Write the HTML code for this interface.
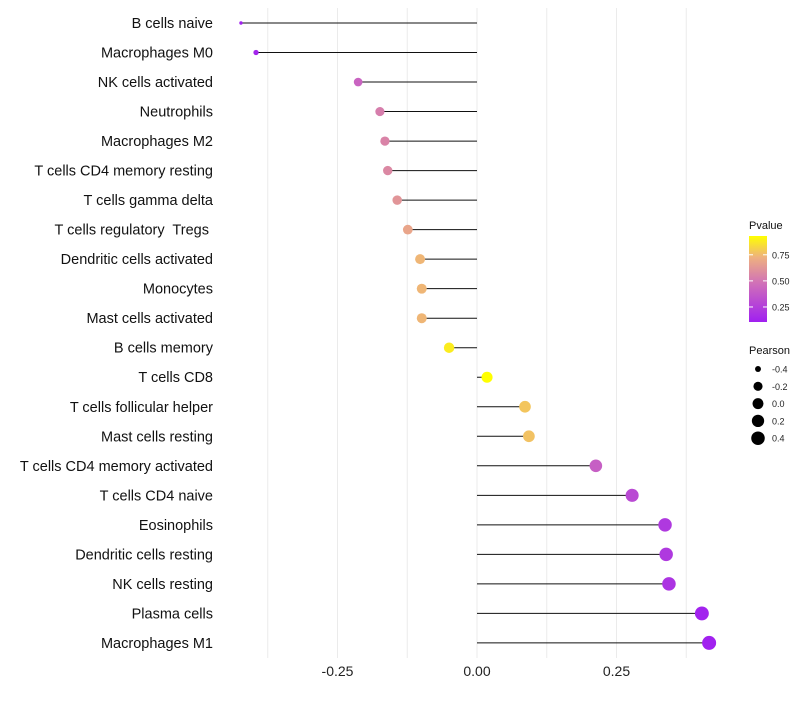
<!DOCTYPE html>
<html><head><meta charset="utf-8"><style>
body{margin:0;background:#fff;font-family:"Liberation Sans",sans-serif;}
text{white-space:pre;}
</style></head><body>
<svg id="chart" width="800" height="700" xmlns="http://www.w3.org/2000/svg" font-family="Liberation Sans, sans-serif">
<defs><linearGradient id="pg" x1="0" y1="1" x2="0" y2="0">
<stop offset="0" stop-color="#a020f0"/><stop offset="0.45" stop-color="#d070b8"/><stop offset="0.75" stop-color="#eeb080"/><stop offset="1" stop-color="#ffff00"/></linearGradient></defs>
<g id="grid"></g><g id="marks"></g><g id="labels"></g><g id="legend"></g>
</svg>
<script>
const categories=["B cells naive","Macrophages M0","NK cells activated","Neutrophils","Macrophages M2","T cells CD4 memory resting","T cells gamma delta","T cells regulatory  Tregs ","Dendritic cells activated","Monocytes","Mast cells activated","B cells memory","T cells CD8","T cells follicular helper","Mast cells resting","T cells CD4 memory activated","T cells CD4 naive","Eosinophils","Dendritic cells resting","NK cells resting","Plasma cells","Macrophages M1"];
const pearson=[-0.423,-0.396,-0.213,-0.174,-0.165,-0.160,-0.143,-0.124,-0.102,-0.099,-0.099,-0.050,0.018,0.086,0.093,0.213,0.278,0.337,0.339,0.344,0.403,0.416];
const pvalue=[0.11,0.13,0.42,0.53,0.55,0.57,0.62,0.68,0.74,0.74,0.74,0.88,0.93,0.78,0.77,0.4,0.3,0.22,0.22,0.2,0.12,0.11];
const xTicks=[-0.25,0,0.25];
const xTickLabels=["-0.25","0.00","0.25"];
const gridVals=[-0.375,-0.25,-0.125,0,0.125,0.25,0.375];
const pTicks=[0.25,0.5,0.75];
const sizeTicks=[-0.4,-0.2,0,0.2,0.4];
const sizeTickLabels=["-0.4","-0.2","0.0","0.2","0.4"];
const NS="http://www.w3.org/2000/svg";
const x=v=>477+v*558;
const y=i=>23+i*29.52;
const r=v=>1.7+5.3*Math.sqrt(Math.max(0,(v+0.423)/0.84));
const rl=v=>2.2+4.6*Math.sqrt(Math.max(0,(v+0.423)/0.84));
function lerp(a,b,t){return a+(b-a)*t}
const stops=[[0,[160,32,240]],[0.45,[208,112,184]],[0.75,[238,176,128]],[1,[255,255,0]]];
function col(p){let t=(p-0.106)/(0.93-0.106);t=Math.max(0,Math.min(1,t));
for(let k=0;k<stops.length-1;k++){const [a,ca]=stops[k],[b,cb]=stops[k+1];if(t<=b){const u=(t-a)/(b-a);return `rgb(${ca.map((c,j)=>Math.round(lerp(c,cb[j],u))).join(',')})`;}}return 'rgb(255,255,0)';}
function mk(tag,attrs,parent,txt){const e=document.createElementNS(NS,tag);for(const k in attrs)e.setAttribute(k,attrs[k]);if(txt!==undefined)e.textContent=txt;parent.appendChild(e);return e;}
const grid=document.getElementById('grid'),marks=document.getElementById('marks'),labels=document.getElementById('labels'),legend=document.getElementById('legend');
gridVals.forEach(v=>{const l=mk('line',{x1:x(v),x2:x(v),y1:8,y2:658,stroke:'#ebebeb','stroke-width':1},grid);

});
xTicks.forEach((v,i)=>{const t=mk('text',{x:x(v),y:676,'text-anchor':'middle','font-size':14,fill:'#222'},labels,xTickLabels[i]);

});
categories.forEach((c,i)=>{
const t=mk('text',{x:213,y:y(i)+5,'text-anchor':'end','font-size':14.5,fill:'#111'},labels,c);


const s=mk('line',{x1:x(0),x2:x(pearson[i]),y1:y(i),y2:y(i),stroke:'#111','stroke-width':1},marks);


const d=mk('circle',{cx:x(pearson[i]),cy:y(i),r:r(pearson[i]),fill:col(pvalue[i])},marks);


});
const lt=mk('text',{x:749,y:229,'font-size':11,fill:'#111'},legend,'Pvalue');


const bar=mk('rect',{x:749,y:236,width:18,height:86,fill:'url(#pg)'},legend);


pTicks.forEach(p=>{const yy=322-(p-0.106)/(0.93-0.106)*86;
mk('line',{x1:749,x2:753,y1:yy,y2:yy,stroke:'#fff','stroke-width':1},legend);
mk('line',{x1:763,x2:767,y1:yy,y2:yy,stroke:'#fff','stroke-width':1},legend);
const t=mk('text',{x:772,y:yy+3.5,'font-size':9,fill:'#222'},legend,p.toFixed(2));

});
const st=mk('text',{x:749,y:354,'font-size':11,fill:'#111'},legend,'Pearson');


sizeTicks.forEach((v,i)=>{const yy=369+i*17.3;
const c=mk('circle',{cx:758,cy:yy,r:rl(v),fill:'#000'},legend);


const t=mk('text',{x:772,y:yy+3.5,'font-size':9,fill:'#222'},legend,sizeTickLabels[i]);

});
</script>
</body></html>
